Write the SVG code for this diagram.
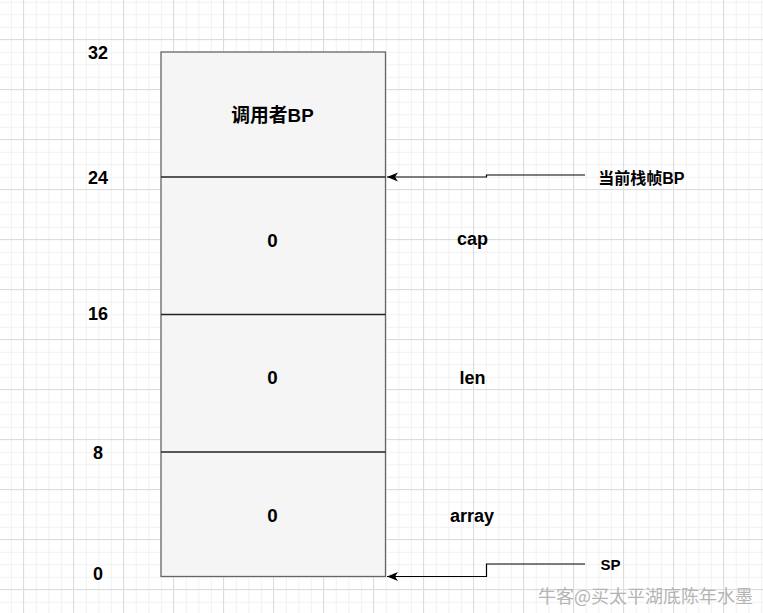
<svg xmlns="http://www.w3.org/2000/svg" width="763" height="613" viewBox="0 0 763 613">
<style>
.t{font-family:"Liberation Sans","Noto Sans CJK SC",sans-serif;font-weight:bold;fill:#000}
.c{text-anchor:middle}
.box{fill:#f5f5f5;stroke:#666;stroke-width:1.3}
.div{stroke:#222;stroke-width:1.4}
.edge{fill:none;stroke:#000;stroke-width:1.2}
.wm{font-family:"Noto Sans CJK SC","Liberation Sans",sans-serif;fill:#b4b4b4;font-size:18px}
</style>
<defs>
<pattern id="minor" patternUnits="userSpaceOnUse" x="10.8" y="1.8" width="12.5" height="12.5">
<path d="M0,0.5 H12.5 M0.5,0 V12.5" stroke="#f1f1f1" stroke-width="1" fill="none"/>
</pattern>
<pattern id="major" patternUnits="userSpaceOnUse" x="23" y="39" width="50" height="50">
<path d="M0,0.5 H50 M0.5,0 V50" stroke="#dcdcdc" stroke-width="1" fill="none"/>
</pattern>
<marker id="arr" markerUnits="userSpaceOnUse" markerWidth="12" markerHeight="10" refX="11" refY="4.5" orient="auto">
<path d="M0,0 L11,4.5 L0,9 L3,4.5 Z" fill="#000"/>
</marker>
</defs>
<rect width="763" height="613" fill="#fff"/>
<rect width="763" height="613" fill="url(#minor)"/>
<rect width="763" height="613" fill="url(#major)"/>

<g id="axis">
<text class="t c" x="98" y="58.5" font-size="18">32</text>
<text class="t c" x="98" y="184.3" font-size="18">24</text>
<text class="t c" x="98" y="320.3" font-size="18">16</text>
<text class="t c" x="98" y="458.5" font-size="18">8</text>
<text class="t c" x="98" y="580.3" font-size="18">0</text>
</g>

<g id="stack">
<rect class="box" x="161" y="52" width="224.5" height="524.5"/>
<line class="div" x1="161" y1="177" x2="385.5" y2="177"/>
<line class="div" x1="161" y1="314.5" x2="385.5" y2="314.5"/>
<line class="div" x1="161" y1="452" x2="385.5" y2="452"/>
</g>

<g id="caller-bp">
<text class="t c" x="272.5" y="121.7" font-size="18.75">调用者BP</text>
</g>
<g id="cell-cap">
<text class="t c" x="272.5" y="246.7" font-size="18.75">0</text>
</g>
<g id="cell-len">
<text class="t c" x="272.5" y="384.2" font-size="18.75">0</text>
</g>
<g id="cell-array">
<text class="t c" x="272.5" y="521.7" font-size="18.75">0</text>
</g>

<g id="label-cap"><text class="t c" x="472.5" y="245" font-size="18">cap</text></g>
<g id="label-len"><text class="t c" x="472.5" y="383.5" font-size="18">len</text></g>
<g id="label-array"><text class="t c" x="472" y="521.5" font-size="18">array</text></g>

<g id="label-bp"><text class="t" x="598.3" y="184" font-size="16">当前栈帧BP</text></g>
<g id="label-sp"><text class="t c" x="610.5" y="570" font-size="15">SP</text></g>

<g id="connectors">
<path class="edge" d="M585,175 H486.5 V177 H387" marker-end="url(#arr)"/>
<path class="edge" d="M585,564 H486.5 V576.5 H387" marker-end="url(#arr)"/>
</g>

<text class="wm" x="753" y="603" text-anchor="end">牛客@买太平湖底陈年水墨</text>
</svg>
